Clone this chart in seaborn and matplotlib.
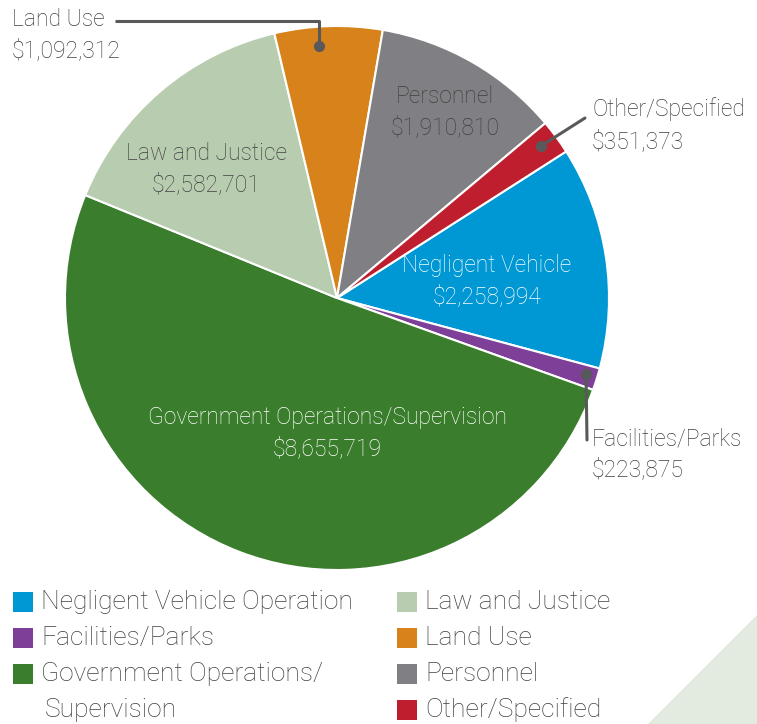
import matplotlib
matplotlib.use("Agg")
import matplotlib.pyplot as plt
import seaborn as sns
from matplotlib.patches import Rectangle, Polygon

categories = ["Negligent Vehicle Operation", "Facilities/Parks",
              "Government Operations/Supervision", "Law and Justice",
              "Land Use", "Personnel", "Other/Specified"]
values = [2258994, 223875, 8655719, 2582701, 1092312, 1910810, 351373]
colors = ["#0098D4", "#7D3F98", "#3A7D2C", "#B8CDB0", "#D7821A", "#808084", "#BE1E2D"]
legend_labels = ["Negligent Vehicle Operation", "Facilities/Parks",
                 "Government Operations/\nSupervision", "Law and Justice",
                 "Land Use", "Personnel", "Other/Specified"]

sns.set_theme(style="white")
plt.rcParams['font.family'] = ['Roboto', 'DejaVu Sans']
plt.rcParams['font.weight'] = 'light'

W, H = 757, 724
fig = plt.figure(figsize=(W / 100, H / 100), dpi=100)
ax = fig.add_axes([0, 0, 1, 1])
ax.set_xlim(0, W)
ax.set_ylim(0, H)
ax.set_aspect('equal')
ax.axis('off')

def Y(y):
    return H - y

# decoration triangle
ax.add_patch(Polygon([(648, Y(724)), (757, Y(615)), (757, Y(724))],
                     closed=True, color="#E3EBE0", lw=0, zorder=0))

cx, cy, R = 337, Y(298), 272
ax.pie(values, colors=colors, startangle=32.6, counterclock=False,
       center=(cx, cy), radius=R, frame=True,
       wedgeprops=dict(edgecolor="white", linewidth=1.5))
ax.set_xlim(0, W)
ax.set_ylim(0, H)
ax.axis('off')

tc = "#404040"
fs = 16.5
ls = 1.42

def fmt(v):
    return "${:,}".format(v)

# inside labels
ax.text(487, Y(281), "Negligent Vehicle\n" + fmt(values[0]), color="white",
        ha="center", va="center", fontsize=fs, linespacing=ls)
ax.text(327, Y(433), "Government Operations/Supervision\n" + fmt(values[2]),
        color="white", ha="center", va="center", fontsize=fs, linespacing=ls)
ax.text(206, Y(169), "Law and Justice\n" + fmt(values[3]), color=tc,
        ha="center", va="center", fontsize=fs, linespacing=ls)
ax.text(445, Y(112), "Personnel\n" + fmt(values[5]), color=tc,
        ha="center", va="center", fontsize=fs, linespacing=ls)

# outside labels with leaders
lc = "#58595B"
ax.text(12, Y(35), "Land Use\n" + fmt(values[4]), color=tc, ha="left",
        va="center", fontsize=fs, linespacing=1.5)
ax.plot([115, 319, 319], [Y(21), Y(21), Y(46)], color=lc, lw=2.2, solid_capstyle='butt')
ax.plot([319], [Y(46)], 'o', color=lc, ms=7)

ax.text(592, Y(125), "Other/Specified\n" + fmt(values[6]), color=tc, ha="left",
        va="center", fontsize=fs, linespacing=1.5)
ax.plot([541, 585], [Y(146), Y(118)], color=lc, lw=2.2)
ax.plot([541], [Y(146)], 'o', color=lc, ms=7)

ax.text(592, Y(454), "Facilities/Parks\n" + fmt(values[1]), color=tc, ha="left",
        va="center", fontsize=fs, linespacing=ls)
ax.plot([586, 587], [Y(374), Y(440)], color=lc, lw=2.2)
ax.plot([586], [Y(374)], 'o', color=lc, ms=7)

# legend (manual, two columns)
lfs = 19
col_x = [13, 397]
row_y = [602, 638, 674, 710]
order = [(0, 0, 0), (1, 0, 1), (2, 0, 2), (3, 1, 0), (4, 1, 1), (5, 1, 2), (6, 1, 3)]
for idx, col, row in order:
    x0 = col_x[col]
    y0 = row_y[row]
    ax.add_patch(Rectangle((x0, Y(y0) - 10), 20, 20, color=colors[idx], lw=0))
    lab = legend_labels[idx]
    if "\n" in lab:
        l1, l2 = lab.split("\n")
        ax.text(x0 + 28, Y(y0), l1, color=tc, ha="left", va="center", fontsize=lfs)
        ax.text(x0 + 32, Y(y0 + 36), l2, color=tc, ha="left", va="center", fontsize=lfs)
    else:
        ax.text(x0 + 28, Y(y0), lab, color=tc, ha="left", va="center", fontsize=lfs)

fig.savefig("out.png", dpi=100, facecolor="white")
